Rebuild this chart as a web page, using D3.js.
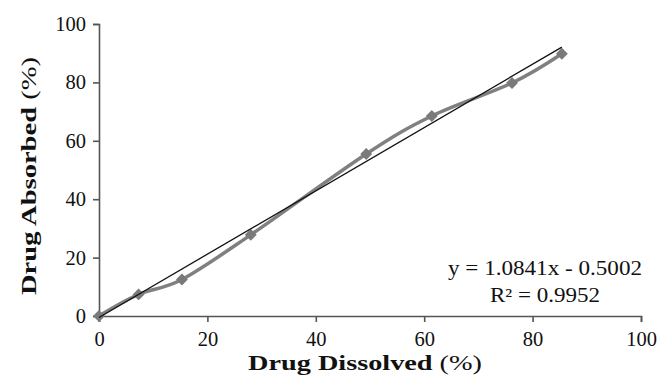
<!DOCTYPE html>
<html><head><meta charset="utf-8">
<script src="https://cdn.jsdelivr.net/npm/d3@7"></script>
<style>body{margin:0;background:#fff}svg{display:block}</style>
</head><body>
<svg id="c" width="670" height="382"></svg>
<script>
const dissolved = [0, 7.3, 15.3, 28.0, 49.3, 61.4, 76.2, 85.4];
const absorbed  = [0, 7.4, 12.5, 27.8, 55.5, 68.5, 79.8, 89.8];
const xTicks = [0, 20, 40, 60, 80, 100];
const yTicks = [0, 20, 40, 60, 80, 100];
const slope = 1.0841, intercept = -0.5002;
const eqText = "y = 1.0841x - 0.5002";
const r2Text = "R\u00B2 = 0.9952";

const svg = d3.select("#c");
const x = d3.scaleLinear().domain([0, 100]).range([99, 641]);
const y = d3.scaleLinear().domain([0, 100]).range([316, 24]);
const font = "'Liberation Serif', 'Times New Roman', serif";
const axisCol = "#555";

const xa = svg.append("g").attr("transform", `translate(0,${y(0)})`)
  .call(d3.axisBottom(x).tickValues(xTicks).tickSize(6).tickPadding(9).tickFormat(d3.format("d")));
const ya = svg.append("g").attr("transform", `translate(${x(0)},0)`)
  .call(d3.axisLeft(y).tickValues(yTicks).tickSize(6).tickPadding(7).tickFormat(d3.format("d")));
[xa, ya].forEach(g => {
  g.select(".domain").attr("stroke", axisCol).attr("stroke-width", 1.6);
  g.selectAll(".tick line").attr("stroke", axisCol).attr("stroke-width", 1.6);
  g.selectAll(".tick text").attr("font-family", font).attr("font-size", 20.5).attr("fill", "#111");
});

const data = dissolved.map((d, i) => [d, absorbed[i]]);

// smoothed series
svg.append("path").datum(data)
  .attr("fill", "none").attr("stroke", "#808080").attr("stroke-width", 3.5)
  .attr("d", d3.line().x(d => x(d[0])).y(d => y(d[1])).curve(d3.curveCardinal.tension(0)));

// markers
svg.append("g").selectAll("path").data(data).join("path")
  .attr("transform", d => `translate(${x(d[0])},${y(d[1])})`)
  .attr("d", d3.symbol().type(d3.symbolDiamond2).size(90))
  .attr("fill", "#7a7a7a");

// trendline
const xMin = d3.min(dissolved), xMax = d3.max(dissolved);
svg.append("line")
  .attr("x1", x(xMin)).attr("y1", y(slope * xMin + intercept))
  .attr("x2", x(xMax)).attr("y2", y(slope * xMax + intercept))
  .attr("stroke", "#111").attr("stroke-width", 1.3);

// equation
svg.append("text").attr("x", 448).attr("y", 275)
  .attr("textLength", 194).attr("lengthAdjust", "spacingAndGlyphs")
  .attr("font-family", font).attr("font-size", 20).attr("fill", "#111").text(eqText);
svg.append("text").attr("x", 490).attr("y", 302)
  .attr("textLength", 110).attr("lengthAdjust", "spacingAndGlyphs")
  .attr("font-family", font).attr("font-size", 20).attr("fill", "#111").text(r2Text);

// axis titles
const xt = svg.append("text").attr("x", 248).attr("y", 370)
  .attr("textLength", 234).attr("lengthAdjust", "spacingAndGlyphs")
  .attr("font-family", font).attr("font-size", 21).attr("fill", "#111");
xt.append("tspan").attr("font-weight", "bold").text("Drug Dissolved ");
xt.append("tspan").text("(%)");

const yt = svg.append("text").attr("transform", "translate(36,295) rotate(-90)")
  .attr("textLength", 238).attr("lengthAdjust", "spacingAndGlyphs")
  .attr("font-family", font).attr("font-size", 22).attr("fill", "#111");
yt.append("tspan").attr("font-weight", "bold").text("Drug Absorbed ");
yt.append("tspan").text("(%)");
</script>
</body></html>
